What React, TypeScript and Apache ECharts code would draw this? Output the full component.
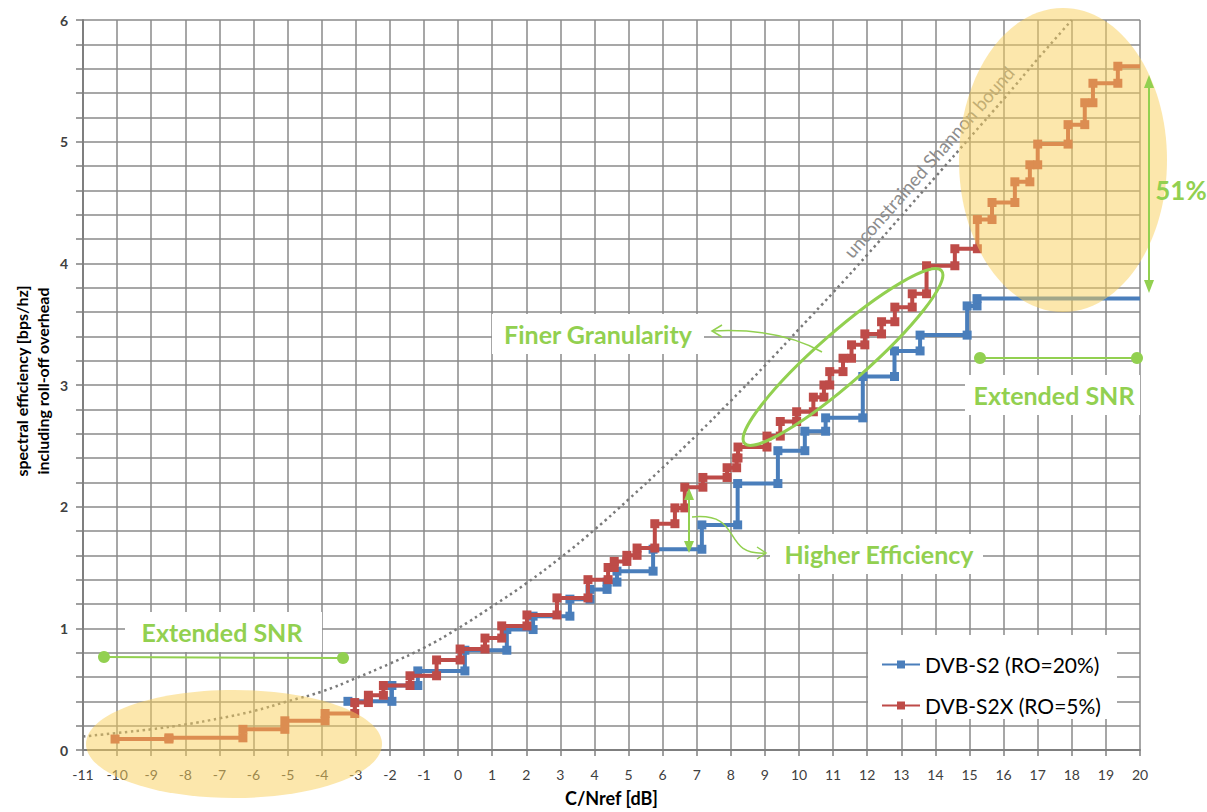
import React, { useEffect, useRef } from "react";
import * as echarts from "echarts";

// ---------- data ----------
const SNR_S2 = [-3.23, -1.94, -1.18, 0.2, 1.43, 2.2, 3.28, 3.87, 4.37, 4.66, 5.72, 7.15, 8.2, 9.38, 10.17, 10.78, 11.87, 12.8, 13.55, 14.93, 15.22];
const EFF_S2 = [0.4, 0.53, 0.65, 0.82, 0.99, 1.1, 1.24, 1.32, 1.38, 1.47, 1.65, 1.85, 2.19, 2.46, 2.62, 2.73, 3.07, 3.28, 3.41, 3.65, 3.71];

const SNR_S2X = [-10.06, -8.48, -6.31, -5.08, -3.9, -3.03, -2.63, -2.19, -1.41, -0.63, 0.06, 0.79, 1.28, 2.02, 2.9, 3.81, 4.4, 4.58, 4.95, 5.25, 5.77, 6.36, 6.65, 7.18, 7.89, 8.17, 8.21, 9.06, 9.45, 9.93, 10.42, 10.73, 10.9, 11.29, 11.54, 11.93, 12.42, 12.81, 13.32, 13.74, 14.57, 15.23, 15.66, 16.33, 16.77, 17.0, 17.89, 18.38, 18.62, 19.35];
const EFF_S2X = [0.09, 0.1, 0.17, 0.24, 0.3, 0.39, 0.45, 0.53, 0.61, 0.74, 0.83, 0.92, 1.02, 1.11, 1.25, 1.4, 1.5, 1.55, 1.6, 1.66, 1.86, 1.99, 2.16, 2.24, 2.32, 2.4, 2.49, 2.58, 2.7, 2.78, 2.9, 3.0, 3.11, 3.22, 3.33, 3.42, 3.52, 3.64, 3.75, 3.98, 4.12, 4.36, 4.5, 4.67, 4.81, 4.98, 5.14, 5.32, 5.48, 5.62];

const SHANNON_X = [-11, -10, -9, -8, -7, -6, -5, -4, -3, -2, -1, 0, 1, 2, 3, 4, 5, 6, 7, 8, 9, 10, 11, 12, 13, 14, 15, 16, 17, 18];
const SHANNON_Y = [0.11, 0.14, 0.17, 0.21, 0.26, 0.32, 0.4, 0.48, 0.59, 0.71, 0.84, 1.0, 1.18, 1.37, 1.58, 1.81, 2.06, 2.32, 2.59, 2.87, 3.16, 3.46, 3.76, 4.07, 4.39, 4.71, 5.03, 5.35, 5.68, 6.0];

const X_END = 20;
const NAME_S2 = "DVB-S2 (RO=20%)";
const NAME_S2X = "DVB-S2X (RO=5%)";
const Y_NAME_1 = "spectral efficiency [bps/hz]";
const Y_NAME_2 = "including roll-off overhead";
const X_NAME = "C/Nref [dB]";
const SHANNON_LABEL = "unconstrained Shannon bound";

// ---------- styles ----------
const FONT = "Lato, 'Open Sans', sans-serif";
const BLUE = "#4A7EBB";
const RED = "#BE4B48";
const GREEN = "#92D050";
const GRID = "#8A8A8A";
const YELLOW = "rgba(250,208,90,0.5)";

function buildSteps(xs: number[], ys: number[], end: number) {
  const pts: any[] = [];
  for (let i = 0; i < xs.length; i++) {
    pts.push([xs[i], ys[i]]);
    if (i + 1 < xs.length) pts.push([xs[i + 1], ys[i]]);
    else pts.push({ value: [end, ys[i]], symbol: "none" });
  }
  return pts;
}

function greenText(text: string, x: number, y: number, size = 25) {
  return {
    type: "text",
    x,
    y,
    z: 12,
    silent: true,
    style: {
      text,
      fill: GREEN,
      font: `bold ${size}px ${FONT}`,
      textAlign: "center",
      textVerticalAlign: "middle",
      align: "center",
      verticalAlign: "middle",
    },
  };
}

function whiteBox(x: number, y: number, w: number, h: number) {
  return { type: "rect", z: 1, silent: true, shape: { x, y, width: w, height: h }, style: { fill: "#ffffff" } };
}

function greenLine(x1: number, y1: number, x2: number, y2: number, w = 2) {
  return { type: "line", z: 11, silent: true, shape: { x1, y1, x2, y2 }, style: { stroke: GREEN, lineWidth: w } };
}

function dot(cx: number, cy: number) {
  return { type: "circle", z: 11, silent: true, shape: { cx, cy, r: 6 }, style: { fill: GREEN } };
}

function tri(points: number[][]) {
  return { type: "polygon", z: 11, silent: true, shape: { points }, style: { fill: GREEN } };
}

function rotText(text: string, x: number, y: number, rotation: number, font: string, fill: string, z = 12) {
  return {
    type: "text", x, y, rotation, z, silent: true,
    style: { text, fill, font, textAlign: "center", textVerticalAlign: "middle", align: "center", verticalAlign: "middle" },
  };
}

export default function App() {
  const ref = useRef<HTMLDivElement>(null);

  useEffect(() => {
    if (!ref.current) return;
    const chart = echarts.init(ref.current, null, { renderer: "svg" });
    const gridLine = { color: GRID, width: 1.5 };
    const axisCol = { color: "#7F7F7F", width: 2 };

    const option: any = {
      animation: false,
      backgroundColor: "#ffffff",
      textStyle: { fontFamily: FONT },
      grid: { left: 83, right: 67, top: 20, bottom: 59, containLabel: false },
      xAxis: {
        type: "value",
        min: -11,
        max: 20,
        interval: 1,
        name: X_NAME,
        nameLocation: "middle",
        nameGap: 39,
        nameTextStyle: { fontSize: 18, fontWeight: "bold", color: "#000", fontFamily: FONT },
        axisLine: { show: true, onZero: false, lineStyle: axisCol },
        axisTick: { show: true, length: 6, lineStyle: { color: "#7F7F7F", width: 1.5 } },
        axisLabel: { fontSize: 14, color: "#404040", margin: 17, fontFamily: FONT },
        splitLine: { show: true, lineStyle: gridLine },
      },
      yAxis: {
        type: "value",
        min: 0,
        max: 6,
        interval: 1,
        axisLine: { show: true, onZero: false, lineStyle: axisCol },
        axisTick: { show: true, length: 7, lineStyle: { color: "#7F7F7F", width: 1.5 } },
        minorTick: { show: true, splitNumber: 5, length: 7, lineStyle: { color: "#7F7F7F", width: 1.5 } },
        minorSplitLine: { show: true, lineStyle: gridLine },
        splitLine: { show: true, lineStyle: gridLine },
        axisLabel: { fontSize: 14, fontWeight: "bold", color: "#404040", margin: 15, fontFamily: FONT },
      },
      legend: {
        orient: "vertical",
        left: 876,
        top: 649,
        itemWidth: 38,
        itemHeight: 10,
        itemGap: 20,
        textStyle: { fontSize: 21, color: "#000", fontFamily: FONT, lineHeight: 20 },
        data: [NAME_S2, NAME_S2X],
        selectedMode: false,
      },
      series: [
        {
          name: "shannon",
          type: "line",
          data: SHANNON_X.map((x, i) => [x, SHANNON_Y[i]]),
          smooth: true,
          symbol: "none",
          silent: true,
          z: 2,
          lineStyle: { color: "#7A7A7A", width: 2.5, type: [2.5, 3.5] },
        },
        {
          name: NAME_S2,
          type: "line",
          data: buildSteps(SNR_S2, EFF_S2, X_END),
          symbol: "rect",
          symbolSize: 9,
          showSymbol: true,
          silent: true,
          z: 3,
          lineStyle: { color: BLUE, width: 4, join: "round" },
          itemStyle: { color: BLUE },
        },
        {
          name: NAME_S2X,
          type: "line",
          data: buildSteps(SNR_S2X, EFF_S2X, X_END),
          symbol: "rect",
          symbolSize: 9,
          showSymbol: true,
          silent: true,
          z: 4,
          lineStyle: { color: RED, width: 4, join: "round" },
          itemStyle: { color: RED },
        },
      ],
      graphic: [
        // white boxes behind labels and legend
        whiteBox(125, 612, 197, 40),
        whiteBox(492, 314, 212, 40),
        whiteBox(770, 534, 213, 40),
        whiteBox(965, 375, 175, 40),
        whiteBox(868, 635, 249, 84),
        // y-axis name
        rotText(Y_NAME_1, 21, 381, Math.PI / 2, `bold 16px ${FONT}`, "#000"),
        rotText(Y_NAME_2, 42, 381, Math.PI / 2, `bold 16px ${FONT}`, "#000"),
        // Shannon label
        rotText(SHANNON_LABEL, 929, 162, 0.85, `18.5px ${FONT}`, "#8C8C8C", 6),
        // yellow highlight ellipses
        { type: "ellipse", z: 8, silent: true, shape: { cx: 234, cy: 744, rx: 148, ry: 54 }, style: { fill: YELLOW } },
        { type: "ellipse", z: 8, silent: true, shape: { cx: 1063, cy: 160, rx: 104, ry: 152 }, style: { fill: YELLOW } },
        // green ellipse around fine steps
        {
          type: "ellipse", x: 843, y: 357, rotation: 0.72, z: 11, silent: true,
          shape: { cx: 0, cy: 0, rx: 131, ry: 25 },
          style: { fill: "none", stroke: GREEN, lineWidth: 3 },
        },
        // extended SNR ranges
        greenLine(104, 657, 343, 658),
        dot(104, 657),
        dot(343, 658),
        greenLine(980, 358, 1137, 358),
        dot(980, 358),
        dot(1137, 358),
        // higher efficiency double arrow
        greenLine(689, 497, 689, 544),
        tri([[689, 488], [684, 500], [694, 500]]),
        tri([[689, 553], [684, 541], [694, 541]]),
        // 51% double arrow
        greenLine(1149, 82, 1149, 286),
        tri([[1149, 75], [1144, 88], [1154, 88]]),
        tri([[1149, 293], [1144, 280], [1154, 280]]),
        // curved pointers
        {
          type: "bezierCurve", z: 11, silent: true,
          shape: { x1: 822, y1: 352, cpx1: 790, cpy1: 334, cpx2: 750, cpy2: 329, x2: 712, y2: 331 },
          style: { stroke: GREEN, lineWidth: 1.5, fill: "none" },
        },
        { type: "polyline", z: 11, silent: true, shape: { points: [[722, 325], [712, 331], [722, 337]] }, style: { stroke: GREEN, lineWidth: 1.5, fill: "none" } },
        {
          type: "bezierCurve", z: 11, silent: true,
          shape: { x1: 692, y1: 517, cpx1: 745, cpy1: 512, cpx2: 720, cpy2: 556, x2: 766, y2: 553 },
          style: { stroke: GREEN, lineWidth: 1.5, fill: "none" },
        },
        { type: "polyline", z: 11, silent: true, shape: { points: [[757, 547], [766, 553], [757, 559]] }, style: { stroke: GREEN, lineWidth: 1.5, fill: "none" } },
        // green labels
        greenText("Extended SNR", 222, 632),
        greenText("Finer Granularity", 598, 334),
        greenText("Higher Efficiency", 879, 554),
        greenText("Extended SNR", 1054, 395),
        greenText("51%", 1181, 190, 26),
      ],
    };

    chart.setOption(option);
    return () => chart.dispose();
  }, []);

  return <div ref={ref} style={{ position: "absolute", left: 0, top: 0, width: 1207, height: 812 }} />;
}
